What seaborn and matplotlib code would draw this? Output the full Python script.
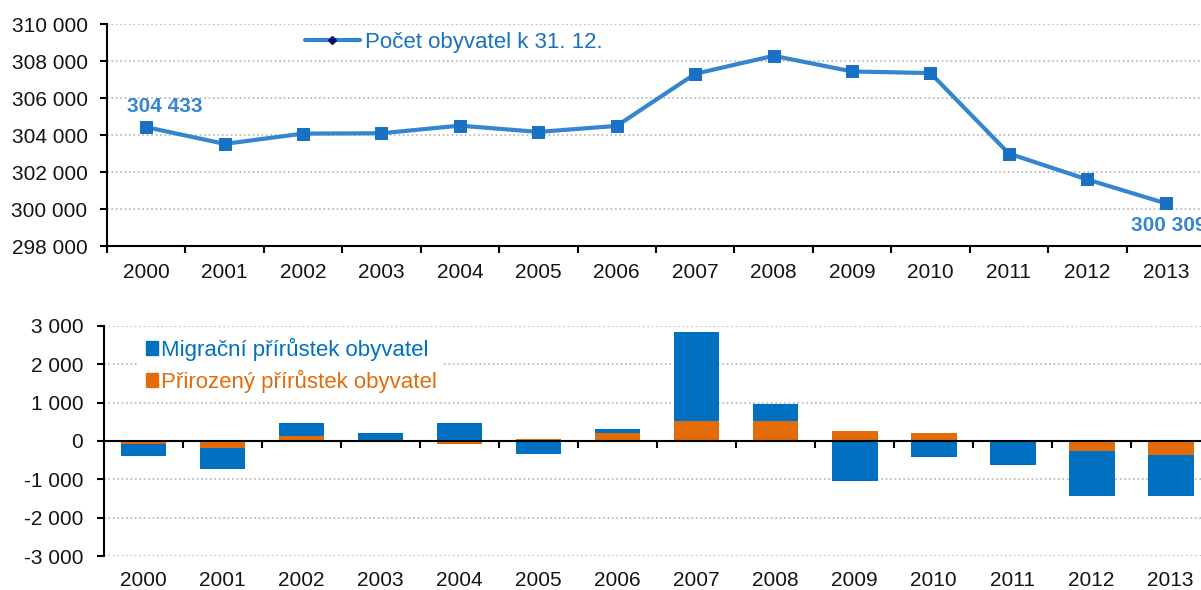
import numpy as np
import seaborn as sns
import matplotlib.pyplot as plt
from matplotlib.lines import Line2D
from matplotlib.patches import Patch
from matplotlib.ticker import FuncFormatter

# %% Data

years = [2000, 2001, 2002, 2003, 2004, 2005, 2006,
         2007, 2008, 2009, 2010, 2011, 2012, 2013]
population = [304433, 303525, 304081, 304100, 304513, 304172, 304500,
              307318, 308290, 307442, 307356, 303001, 301599, 300309]
natural = [-87, -192, 122, -8, -87, 61, 218,
           533, 533, 262, 218, -8, -259, -375]
migration = [-314, -533, 358, 218, 478, -348, 104,
             2314, 419, -1039, -410, -625, -1179, -1063]

pop_label = 'Počet obyvatel k 31. 12.'
mig_label = 'Migrační přírůstek obyvatel'
nat_label = 'Přirozený přírůstek obyvatel'

# %% Style

sns.set_theme(style='white')
plt.rcParams['font.family'] = ['Liberation Sans', 'DejaVu Sans']

c_line = '#3585d0'
c_mark = '#1a70c2'
c_blue = '#0070c0'
c_orange = '#e36c0a'
c_grid = '#b4b4b4'
c_text = '#141414'
fs = 15
fs_leg = 16

def space_thousands(v, pos):
    return f'{v:,.0f}'.replace(',', ' ')

bounds = np.append(np.array(years) - 0.5, years[-1] + 0.5)

fig = plt.figure(figsize=(12.01, 5.90), dpi=100)
ax1 = fig.add_axes([0.0891, 0.583, 0.9142, 0.376])
ax2 = fig.add_axes([0.0866, 0.0576, 0.9210, 0.390])

# %% Top: population line

sns.lineplot(x=years, y=population, ax=ax1, color=c_line, linewidth=3,
             marker='s', markersize=8, markerfacecolor=c_mark,
             markeredgecolor=c_mark, zorder=3)
ax1.set_xlim(bounds[0], bounds[-1])
ax1.set_ylim(298000, 310000)
ax1.set_yticks(np.arange(298000, 310001, 2000))
ax1.yaxis.set_major_formatter(FuncFormatter(space_thousands))
ax1.set_xticks(years)
ax1.set_xticklabels([str(y) for y in years])
ax1.set_xticks(bounds, minor=True)
ax1.tick_params(axis='x', which='major', length=0, pad=12,
                labelsize=fs, labelcolor=c_text)
ax1.tick_params(axis='x', which='minor', bottom=True, length=5,
                width=1.5, color='black', direction='out')
ax1.tick_params(axis='y', left=True, length=5, width=1.5, color='black',
                direction='out', pad=9, labelsize=fs, labelcolor=c_text)
ax1.grid(axis='y', linestyle=':', color=c_grid, linewidth=1.2)
ax1.grid(axis='x', visible=False)
for side in ['top', 'right']:
    ax1.spines[side].set_visible(False)
for side in ['left', 'bottom']:
    ax1.spines[side].set_color('black')
    ax1.spines[side].set_linewidth(1.5)
ax1.set_xlabel('')
ax1.set_ylabel('')

# value labels for first and last year (last one runs off the edge as in the source)
ax1.annotate(space_thousands(population[0], None), (years[0], population[0]),
             xytext=(13, 14.5), textcoords='offset points', ha='center',
             va='center', color=c_line, fontsize=fs, fontweight='bold')
ax1.annotate(space_thousands(population[-1], None), (years[-1], population[-1]),
             xytext=(2, -16), textcoords='offset points', ha='center',
             va='center', color=c_line, fontsize=fs, fontweight='bold',
             annotation_clip=False)

h_pop = Line2D([], [], color=c_line, linewidth=3, marker='D', markersize=4,
               markerfacecolor='#101060', markeredgecolor='#101060')
leg1 = ax1.legend([h_pop], [pop_label], loc='upper left',
                  bbox_to_anchor=(0.180, 0.964), frameon=False,
                  handlelength=2.5, handletextpad=0.2, borderpad=0,
                  borderaxespad=0, fontsize=fs_leg)
for t in leg1.get_texts():
    t.set_color(c_mark)

# %% Bottom: stacked bars (overlap trick)

same_sign = np.sign(natural) == np.sign(migration)
mig_top = np.array(migration) + np.where(same_sign, natural, 0)

sns.barplot(x=years, y=mig_top, ax=ax2, native_scale=True, color=c_blue,
            saturation=1, width=0.58, errorbar=None, linewidth=0, zorder=2)
sns.barplot(x=years, y=natural, ax=ax2, native_scale=True, color=c_orange,
            saturation=1, width=0.58, errorbar=None, linewidth=0, zorder=3)

ax2.set_xlim(bounds[0], bounds[-1])
ax2.set_ylim(-3000, 3000)
ax2.set_yticks(np.arange(-3000, 3001, 1000))
ax2.yaxis.set_major_formatter(FuncFormatter(space_thousands))
ax2.tick_params(axis='y', left=True, length=5, width=1.5, color='black',
                direction='out', pad=10, labelsize=fs, labelcolor=c_text)
ax2.grid(axis='y', linestyle=':', color=c_grid, linewidth=1.2, zorder=0)
ax2.grid(axis='x', visible=False)
ax2.set_axisbelow(True)

ax2.spines['bottom'].set_position(('data', 0))
ax2.spines['bottom'].set_zorder(4)
ax2.set_xticks(bounds)
ax2.set_xticklabels([])
ax2.tick_params(axis='x', bottom=True, length=5, width=1.5, color='black',
                direction='out')
for side in ['top', 'right']:
    ax2.spines[side].set_visible(False)
for side in ['left', 'bottom']:
    ax2.spines[side].set_color('black')
    ax2.spines[side].set_linewidth(1.5)
ax2.set_xlabel('')
ax2.set_ylabel('')

sec = ax2.secondary_xaxis('bottom')
sec.set_xticks(years)
sec.set_xticklabels([str(y) for y in years])
sec.tick_params(length=0, pad=11, labelsize=fs, labelcolor=c_text)
sec.spines['bottom'].set_visible(False)

leg2 = ax2.legend([Patch(color=c_blue), Patch(color=c_orange)],
                  [mig_label, nat_label], loc='upper left',
                  bbox_to_anchor=(0.0216, 1.026), frameon=True,
                  facecolor='white', edgecolor='none', framealpha=1,
                  handlelength=0.55, handleheight=0.55, handletextpad=0.12,
                  labelspacing=0.4, borderpad=0.3, fontsize=fs_leg)
for t, c in zip(leg2.get_texts(), [c_blue, c_orange]):
    t.set_color(c)

fig.savefig('out.png', dpi=100)
